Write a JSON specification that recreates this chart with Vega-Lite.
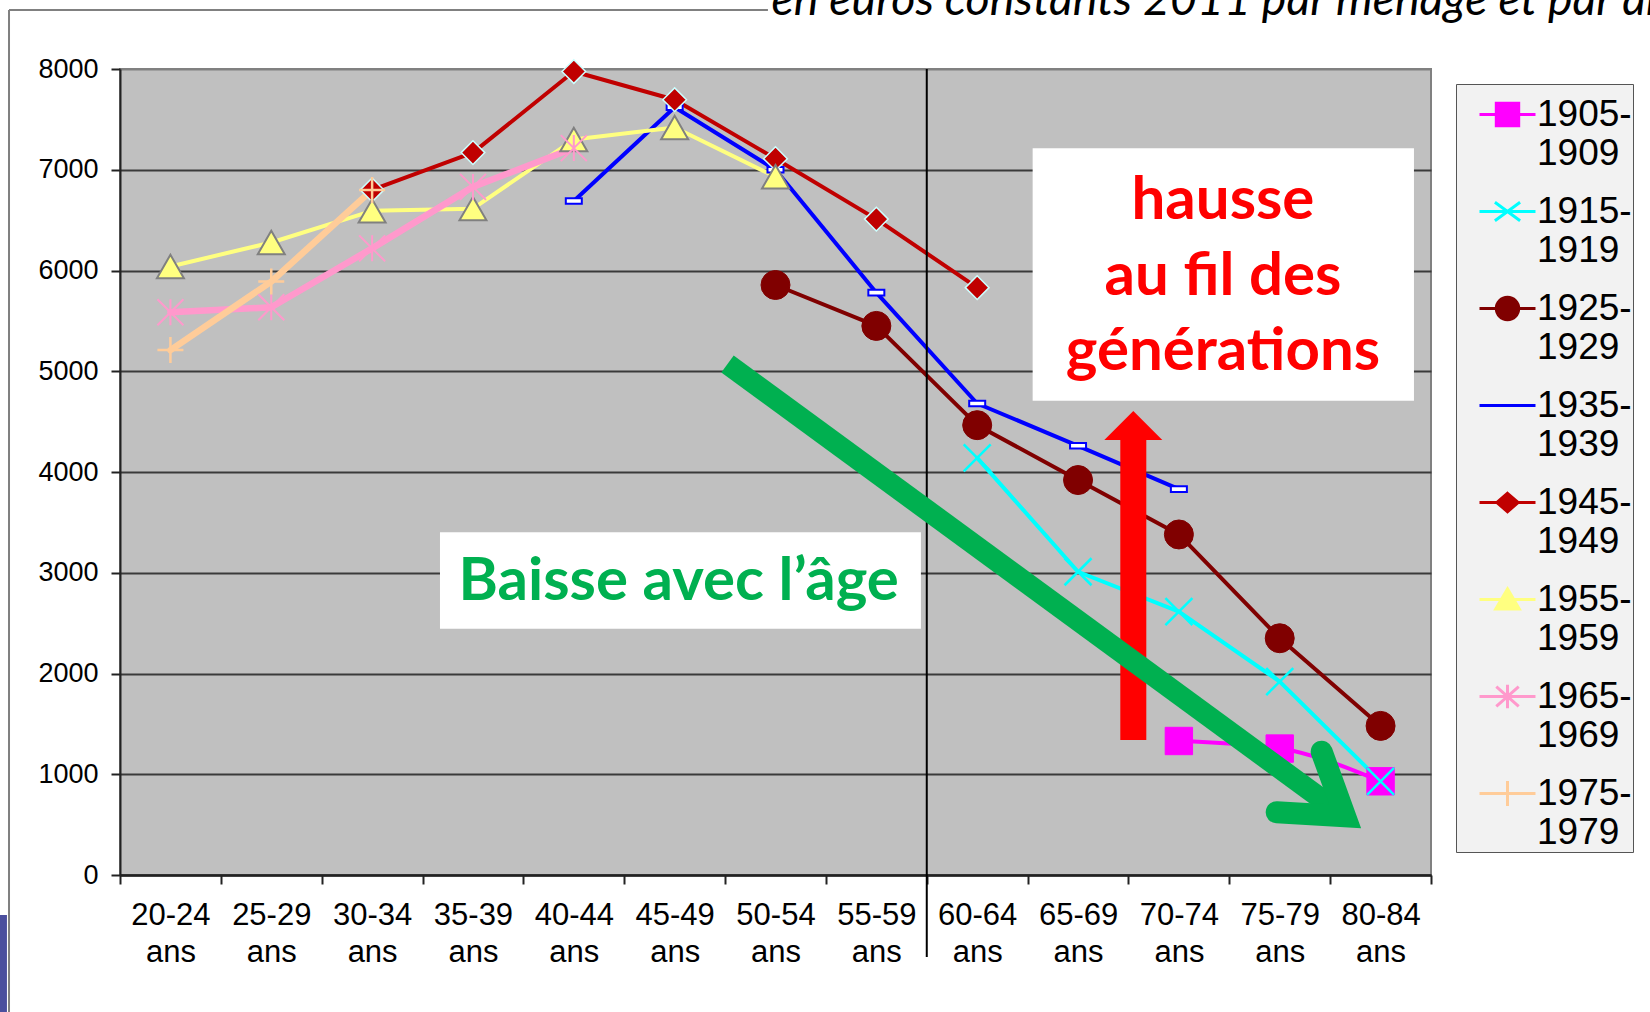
{
  "$schema": "https://vega.github.io/schema/vega-lite/v6.json",
  "width": 1311,
  "height": 806,
  "autosize": {"type": "none"},
  "padding": {"left": 120, "top": 69, "right": 219, "bottom": 137},
  "background": "white",
  "view": {"fill": "#c0c0c0", "stroke": "#808080", "strokeWidth": 2},
  "config": {"view": {"fill": "#c0c0c0", "stroke": "#808080", "strokeWidth": 2}},
  "datasets": {
    "series": [
      {"cohort": "1905-1909", "age": "70-74 ans", "value": 1330},
      {"cohort": "1905-1909", "age": "75-79 ans", "value": 1255},
      {"cohort": "1905-1909", "age": "80-84 ans", "value": 930},
      {"cohort": "1915-1919", "age": "60-64 ans", "value": 4140},
      {"cohort": "1915-1919", "age": "65-69 ans", "value": 3010},
      {"cohort": "1915-1919", "age": "70-74 ans", "value": 2615},
      {"cohort": "1915-1919", "age": "75-79 ans", "value": 1920},
      {"cohort": "1915-1919", "age": "80-84 ans", "value": 930},
      {"cohort": "1925-1929", "age": "50-54 ans", "value": 5856},
      {"cohort": "1925-1929", "age": "55-59 ans", "value": 5450},
      {"cohort": "1925-1929", "age": "60-64 ans", "value": 4465},
      {"cohort": "1925-1929", "age": "65-69 ans", "value": 3920},
      {"cohort": "1925-1929", "age": "70-74 ans", "value": 3380},
      {"cohort": "1925-1929", "age": "75-79 ans", "value": 2350},
      {"cohort": "1925-1929", "age": "80-84 ans", "value": 1480},
      {"cohort": "1935-1939", "age": "40-44 ans", "value": 6690},
      {"cohort": "1935-1939", "age": "45-49 ans", "value": 7620},
      {"cohort": "1935-1939", "age": "50-54 ans", "value": 7000},
      {"cohort": "1935-1939", "age": "55-59 ans", "value": 5780},
      {"cohort": "1935-1939", "age": "60-64 ans", "value": 4680},
      {"cohort": "1935-1939", "age": "65-69 ans", "value": 4260},
      {"cohort": "1935-1939", "age": "70-74 ans", "value": 3830},
      {"cohort": "1945-1949", "age": "30-34 ans", "value": 6800},
      {"cohort": "1945-1949", "age": "35-39 ans", "value": 7170},
      {"cohort": "1945-1949", "age": "40-44 ans", "value": 7975},
      {"cohort": "1945-1949", "age": "45-49 ans", "value": 7695},
      {"cohort": "1945-1949", "age": "50-54 ans", "value": 7110},
      {"cohort": "1945-1949", "age": "55-59 ans", "value": 6510},
      {"cohort": "1945-1949", "age": "60-64 ans", "value": 5830},
      {"cohort": "1955-1959", "age": "20-24 ans", "value": 6040},
      {"cohort": "1955-1959", "age": "25-29 ans", "value": 6278},
      {"cohort": "1955-1959", "age": "30-34 ans", "value": 6592},
      {"cohort": "1955-1959", "age": "35-39 ans", "value": 6614},
      {"cohort": "1955-1959", "age": "40-44 ans", "value": 7300},
      {"cohort": "1955-1959", "age": "45-49 ans", "value": 7420},
      {"cohort": "1955-1959", "age": "50-54 ans", "value": 6930},
      {"cohort": "1965-1969", "age": "20-24 ans", "value": 5585},
      {"cohort": "1965-1969", "age": "25-29 ans", "value": 5635},
      {"cohort": "1965-1969", "age": "30-34 ans", "value": 6220},
      {"cohort": "1965-1969", "age": "35-39 ans", "value": 6830},
      {"cohort": "1965-1969", "age": "40-44 ans", "value": 7215},
      {"cohort": "1975-1979", "age": "20-24 ans", "value": 5210},
      {"cohort": "1975-1979", "age": "25-29 ans", "value": 5890},
      {"cohort": "1975-1979", "age": "30-34 ans", "value": 6800}
    ],
    "boxes": [
      {"box": "baisse", "bx": 3.173, "bx2": 7.942, "v": 3401.5, "v2": 2444.7},
      {"box": "hausse", "bx": 9.05, "bx2": 12.831, "v": 7212.9, "v2": 4707.7}
    ],
    "greenText": [{"label": "Baisse avec l’âge", "bx": 5.54, "v": 2729.5}],
    "redText": [
      {"label": "hausse", "bx": 10.937, "v": 6508.3},
      {"label": "au fil des", "bx": 10.937, "v": 5756.8},
      {"label": "générations", "bx": 10.937, "v": 5012.4}
    ],
    "titleText": [{"label": "en euros constants 2011 par ménage et par an", "bx": 6.461, "v": 8536}],
    "greenShaft": [{"bx": 6.024, "v": 5072, "bx2": 12.148, "v2": 583.6}],
    "greenHead": [
      {"bx": 11.47, "v": 622.3, "k": 1},
      {"bx": 12.148, "v": 583.6, "k": 2},
      {"bx": 11.916, "v": 1223.8, "k": 3}
    ],
    "redShaft": [{"bx": 10.048, "v": 1340, "v2": 4317.6}],
    "redHead": [{"bx": 10.048, "v": 4461.6}],
    "divider": [{"bx": 8.0, "v": 8000, "v2": -814}],
    "frame": [
      {"bx": -1.1006, "bx2": 6.425, "v": 8585.6, "v2": 8585.6},
      {"bx": -1.1006, "bx2": -1.1006, "v": 8585.6, "v2": -1360}
    ],
    "corner": [{"bx": -1.19, "bx2": -1.121, "v": -397, "v2": -1360}]
  },
  "layer": [
    {
      "layer": [
        {
          "data": {"name": "series"},
          "transform": [{"filter": "datum.cohort != '1905-1909' && datum.cohort != '1965-1969' && datum.cohort != '1975-1979'"}],
          "mark": {"type": "line", "strokeWidth": 4, "strokeCap": "round", "strokeJoin": "round"},
          "encoding": {
            "x": {
              "field": "age", "type": "nominal", "bandPosition": 0.5,
              "scale": {"type": "band", "paddingInner": 0, "paddingOuter": 0,
                "domain": ["20-24 ans", "25-29 ans", "30-34 ans", "35-39 ans", "40-44 ans", "45-49 ans", "50-54 ans", "55-59 ans", "60-64 ans", "65-69 ans", "70-74 ans", "75-79 ans", "80-84 ans"]},
              "axis": {"title": null, "tickBand": "extent", "labelExpr": "split(datum.label, ' ')",
                "labelFont": "Liberation Sans", "labelFontSize": 31, "labelColor": "#000", "labelLineHeight": 37.6,
                "labelAngle": 0, "labelPadding": 16, "labelBaseline": "top", "tickSize": 9, "tickColor": "#222", "tickWidth": 2,
                "domainColor": "#222", "domainWidth": 2.5, "grid": false}
            },
            "y": {
              "field": "value", "type": "quantitative",
              "scale": {"domain": [0, 8000], "nice": false, "zero": false},
              "axis": {"title": null, "values": [0, 1000, 2000, 3000, 4000, 5000, 6000, 7000, 8000], "format": "d", "grid": true,
                "gridColor": {"condition": {"test": "datum.value == 8000", "value": "#808080"}, "value": "#3a3a3a"},
                "gridWidth": 2, "labelFont": "Liberation Sans", "labelFontSize": 27,
                "labelColor": "#000", "labelPadding": 13, "tickSize": 9, "tickColor": "#222", "tickWidth": 2,
                "domainColor": "#222", "domainWidth": 2}
            },
            "color": {
              "field": "cohort", "type": "nominal",
              "scale": {"domain": ["1905-1909", "1915-1919", "1925-1929", "1935-1939", "1945-1949", "1955-1959", "1965-1969", "1975-1979"],
                "range": ["#ff00ff", "#00ffff", "#800000", "#0000ff", "#c00000", "#ffff80", "#ff99cc", "#ffcc99"]},
              "legend": {
                "orient": "none", "legendX": 1336, "legendY": 15, "title": null, "direction": "vertical",
                "labelFont": "Liberation Sans", "labelFontSize": 37, "labelColor": "#000", "labelLimit": 400, "labelOffset": 0,
                "labelExpr": "[slice(datum.label, 0, 5) + '\u00a0\u00a0\u00a0', slice(datum.label, 5)]", "labelBaseline": "middle",
                "symbolStrokeWidth": 3, "symbolOffset": 21, "rowPadding": 10, "padding": 1,
                "fillColor": "#f2f2f2", "strokeColor": "#555555"
              }
            }
          }
        },
        {
          "data": {"name": "series"},
          "transform": [{"filter": "datum.cohort == '1905-1909'"}],
          "mark": {"type": "line", "strokeWidth": 4, "strokeCap": "round", "strokeJoin": "round", "interpolate": "monotone"},
          "encoding": {
            "x": {"field": "age", "type": "nominal", "bandPosition": 0.5},
            "y": {"field": "value", "type": "quantitative"},
            "color": {"field": "cohort", "type": "nominal"}
          }
        },
        {
          "data": {"name": "series"},
          "transform": [{"filter": "datum.cohort == '1965-1969' || datum.cohort == '1975-1979'"}],
          "mark": {"type": "line", "strokeWidth": 6.5, "strokeCap": "round", "strokeJoin": "round"},
          "encoding": {
            "x": {"field": "age", "type": "nominal", "bandPosition": 0.5},
            "y": {"field": "value", "type": "quantitative"},
            "color": {"field": "cohort", "type": "nominal"}
          }
        },
        {
          "data": {"name": "series"},
          "transform": [{"filter": "false"}],
          "mark": {"type": "point", "strokeWidth": 3, "opacity": 1},
          "encoding": {
            "shape": {
              "field": "cohort", "type": "nominal",
              "scale": {"domain": ["1905-1909", "1915-1919", "1925-1929", "1935-1939", "1945-1949", "1955-1959", "1965-1969", "1975-1979"],
                "range": ["M-1,0H1M-0.4,-0.4H0.4V0.4H-0.4Z", "M-1,0H1M-0.45,-0.33L0.45,0.33M-0.45,0.33L0.45,-0.33", "M-1,0H1M-0.4,0A0.4,0.4 0 1,0 0.4,0A0.4,0.4 0 1,0 -0.4,0Z", "M-1,0H1", "M-1,0H1M0,-0.33L0.38,0L0,0.33L-0.38,0Z", "M-1,0H1M0,-0.38L0.42,0.34L-0.42,0.34Z", "M-1,0H1M-0.4,-0.35L0.4,0.35M-0.4,0.35L0.4,-0.35M0,-0.42V0.42", "M-1,0H1M0,-0.45V0.45"]},
              "legend": null
            },
            "fill": {
              "field": "cohort", "type": "nominal",
              "scale": {"domain": ["1905-1909", "1915-1919", "1925-1929", "1935-1939", "1945-1949", "1955-1959", "1965-1969", "1975-1979"],
                "range": ["#ff00ff", "transparent", "#800000", "transparent", "#c00000", "#ffff80", "transparent", "transparent"]},
              "legend": null
            },
            "stroke": {
              "field": "cohort", "type": "nominal",
              "scale": {"domain": ["1905-1909", "1915-1919", "1925-1929", "1935-1939", "1945-1949", "1955-1959", "1965-1969", "1975-1979"],
                "range": ["#ff00ff", "#00ffff", "#800000", "#0000ff", "#c00000", "#ffff80", "#ff99cc", "#ffcc99"]},
              "legend": null
            },
            "size": {
              "field": "cohort", "type": "nominal",
              "scale": {"domain": ["1905-1909", "1915-1919", "1925-1929", "1935-1939", "1945-1949", "1955-1959", "1965-1969", "1975-1979"],
                "range": [3136, 3136, 3136, 3136, 3136, 3136, 3136, 3136]},
              "legend": null
            }
          }
        },
        {
          "data": {"name": "series"},
          "transform": [{"filter": "datum.cohort == '1905-1909'"}],
          "mark": {"type": "point", "shape": "square", "size": 750, "filled": true, "fill": "#ff00ff", "stroke": "#ff00ff", "strokeWidth": 1, "opacity": 1},
          "encoding": {"x": {"field": "age", "type": "nominal", "bandPosition": 0.5}, "y": {"field": "value", "type": "quantitative"}}
        },
        {
          "data": {"name": "series"},
          "transform": [{"filter": "datum.cohort == '1915-1919'"}],
          "mark": {"type": "point", "shape": "M-1,-1L1,1M-1,1L1,-1", "size": 729, "filled": false, "fill": "transparent", "stroke": "#00ffff", "strokeWidth": 2.5, "opacity": 1},
          "encoding": {"x": {"field": "age", "type": "nominal", "bandPosition": 0.5}, "y": {"field": "value", "type": "quantitative"}}
        },
        {
          "data": {"name": "series"},
          "transform": [{"filter": "datum.cohort == '1925-1929'"}],
          "mark": {"type": "point", "shape": "circle", "size": 841, "filled": true, "fill": "#800000", "stroke": "#800000", "strokeWidth": 1, "opacity": 1},
          "encoding": {"x": {"field": "age", "type": "nominal", "bandPosition": 0.5}, "y": {"field": "value", "type": "quantitative"}}
        },
        {
          "data": {"name": "series"},
          "transform": [{"filter": "datum.cohort == '1935-1939'"}],
          "mark": {"type": "point", "shape": "M-1,-0.35H1V0.35H-1Z", "size": 256, "filled": true, "fill": "#ffffff", "stroke": "#0000ff", "strokeWidth": 2, "opacity": 1},
          "encoding": {"x": {"field": "age", "type": "nominal", "bandPosition": 0.5}, "y": {"field": "value", "type": "quantitative"}}
        },
        {
          "data": {"name": "series"},
          "transform": [{"filter": "datum.cohort == '1945-1949'"}],
          "mark": {"type": "point", "shape": "diamond", "size": 560, "filled": true, "fill": "#c00000", "stroke": "#ccffff", "strokeWidth": 1.5, "opacity": 1},
          "encoding": {"x": {"field": "age", "type": "nominal", "bandPosition": 0.5}, "y": {"field": "value", "type": "quantitative"}}
        },
        {
          "data": {"name": "series"},
          "transform": [{"filter": "datum.cohort == '1955-1959'"}],
          "mark": {"type": "point", "shape": "triangle-up", "size": 729, "filled": true, "fill": "#ffff80", "stroke": "#808080", "strokeWidth": 2, "opacity": 1},
          "encoding": {"x": {"field": "age", "type": "nominal", "bandPosition": 0.5}, "y": {"field": "value", "type": "quantitative"}}
        },
        {
          "data": {"name": "series"},
          "transform": [{"filter": "datum.cohort == '1965-1969'"}],
          "mark": {"type": "point", "shape": "M-1,-1L1,1M-1,1L1,-1M0,-1V1", "size": 676, "filled": false, "fill": "transparent", "stroke": "#ff99cc", "strokeWidth": 2, "opacity": 1},
          "encoding": {"x": {"field": "age", "type": "nominal", "bandPosition": 0.5}, "y": {"field": "value", "type": "quantitative"}}
        },
        {
          "data": {"name": "series"},
          "transform": [{"filter": "datum.cohort == '1975-1979'"}],
          "mark": {"type": "point", "shape": "M-1,0H1M0,-1V1", "size": 676, "filled": false, "fill": "transparent", "stroke": "#ffcc99", "strokeWidth": 2.5, "opacity": 1},
          "encoding": {"x": {"field": "age", "type": "nominal", "bandPosition": 0.5}, "y": {"field": "value", "type": "quantitative"}}
        }
      ]
    },
    {
      "layer": [
        {
          "data": {"name": "corner"},
          "mark": {"type": "rect", "color": "#4b4f9e"},
          "encoding": {
            "x": {"field": "bx", "type": "quantitative", "scale": {"domain": [0, 13], "nice": false, "zero": false}, "axis": null},
            "x2": {"field": "bx2"},
            "y": {"field": "v", "type": "quantitative"},
            "y2": {"field": "v2"}
          }
        },
        {
          "data": {"name": "frame"},
          "mark": {"type": "rule", "color": "#808080", "strokeWidth": 2},
          "encoding": {
            "x": {"field": "bx", "type": "quantitative", "scale": {"domain": [0, 13], "nice": false, "zero": false}, "axis": null},
            "x2": {"field": "bx2"},
            "y": {"field": "v", "type": "quantitative"},
            "y2": {"field": "v2"}
          }
        },
        {
          "data": {"name": "titleText"},
          "mark": {"type": "text", "font": "Lato", "fontStyle": "italic", "fontSize": 46.5, "color": "#000", "align": "left", "baseline": "alphabetic"},
          "encoding": {
            "x": {"field": "bx", "type": "quantitative", "scale": {"domain": [0, 13], "nice": false, "zero": false}, "axis": null},
            "y": {"field": "v", "type": "quantitative"},
            "text": {"field": "label"}
          }
        },
        {
          "data": {"name": "divider"},
          "mark": {"type": "rule", "color": "#000000", "strokeWidth": 2},
          "encoding": {
            "x": {"field": "bx", "type": "quantitative", "scale": {"domain": [0, 13], "nice": false, "zero": false}, "axis": null},
            "y": {"field": "v", "type": "quantitative"},
            "y2": {"field": "v2"}
          }
        },
        {
          "data": {"name": "boxes"},
          "mark": {"type": "rect", "color": "#ffffff", "opacity": 1},
          "encoding": {
            "x": {"field": "bx", "type": "quantitative", "scale": {"domain": [0, 13], "nice": false, "zero": false}, "axis": null},
            "x2": {"field": "bx2"},
            "y": {"field": "v", "type": "quantitative"},
            "y2": {"field": "v2"}
          }
        },
        {
          "data": {"name": "greenText"},
          "mark": {"type": "text", "font": "Lato", "fontWeight": "bold", "fontSize": 60, "color": "#00b050", "align": "center", "baseline": "alphabetic"},
          "encoding": {
            "x": {"field": "bx", "type": "quantitative", "scale": {"domain": [0, 13], "nice": false, "zero": false}, "axis": null},
            "y": {"field": "v", "type": "quantitative"},
            "text": {"field": "label"}
          }
        },
        {
          "data": {"name": "redText"},
          "mark": {"type": "text", "font": "Lato", "fontWeight": "bold", "fontSize": 60, "color": "#ff0000", "align": "center", "baseline": "alphabetic"},
          "encoding": {
            "x": {"field": "bx", "type": "quantitative", "scale": {"domain": [0, 13], "nice": false, "zero": false}, "axis": null},
            "y": {"field": "v", "type": "quantitative"},
            "text": {"field": "label"}
          }
        },
        {
          "data": {"name": "redShaft"},
          "mark": {"type": "rule", "color": "#ff0000", "strokeWidth": 26, "strokeCap": "butt"},
          "encoding": {
            "x": {"field": "bx", "type": "quantitative", "scale": {"domain": [0, 13], "nice": false, "zero": false}, "axis": null},
            "y": {"field": "v", "type": "quantitative"},
            "y2": {"field": "v2"}
          }
        },
        {
          "data": {"name": "redHead"},
          "mark": {"type": "point", "shape": "M-1,0.5L0,-0.5L1,0.5Z", "size": 3364, "filled": true, "color": "#ff0000", "opacity": 1, "strokeWidth": 0},
          "encoding": {
            "x": {"field": "bx", "type": "quantitative", "scale": {"domain": [0, 13], "nice": false, "zero": false}, "axis": null},
            "y": {"field": "v", "type": "quantitative"}
          }
        },
        {
          "data": {"name": "greenShaft"},
          "mark": {"type": "rule", "color": "#00b050", "strokeWidth": 21, "strokeCap": "butt"},
          "encoding": {
            "x": {"field": "bx", "type": "quantitative", "scale": {"domain": [0, 13], "nice": false, "zero": false}, "axis": null},
            "x2": {"field": "bx2"},
            "y": {"field": "v", "type": "quantitative"},
            "y2": {"field": "v2"}
          }
        },
        {
          "data": {"name": "greenHead"},
          "mark": {"type": "line", "color": "#00b050", "strokeWidth": 22, "strokeCap": "round", "strokeJoin": "miter", "strokeMiterLimit": 10},
          "encoding": {
            "x": {"field": "bx", "type": "quantitative", "scale": {"domain": [0, 13], "nice": false, "zero": false}, "axis": null},
            "y": {"field": "v", "type": "quantitative"},
            "order": {"field": "k", "type": "quantitative"}
          }
        }
      ]
    }
  ],
  "resolve": {"scale": {"x": "independent"}}
}
